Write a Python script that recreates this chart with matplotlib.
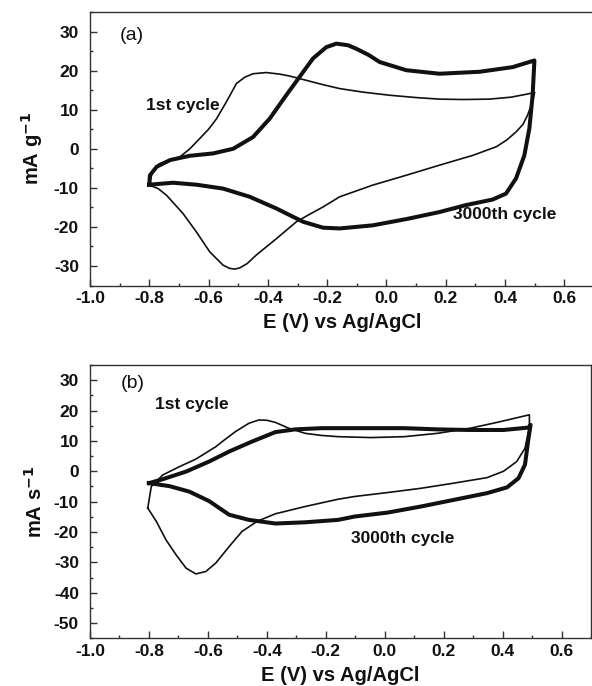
import matplotlib
matplotlib.use("Agg")
import matplotlib.pyplot as plt
from matplotlib.ticker import MultipleLocator

plt.rcParams['font.family'] = ['Liberation Sans', 'DejaVu Sans']

# ---------------- data ----------------
# Panel (a): 1st cycle (thin)
a1_x = [-0.800, -0.790, -0.765, -0.730, -0.697, -0.663, -0.630, -0.600, -0.573, -0.540,
        -0.506, -0.478, -0.450, -0.405, -0.360, -0.326, -0.270, -0.214, -0.158, -0.080,
        0.010, 0.100, 0.179, 0.260, 0.347, 0.420, 0.482, 0.500,
        0.490, 0.476, 0.460, 0.437, 0.405, 0.370, 0.291, 0.179, 0.066, -0.046,
        -0.158, -0.214, -0.260, -0.304, -0.371, -0.439, -0.470, -0.495, -0.512, -0.530,
        -0.551, -0.596, -0.641, -0.686, -0.742, -0.770, -0.800]
a1_y = [-9.3, -6.0, -3.8, -2.8, -2.1, 0.0, 2.6, 5.0, 7.7, 12.0,
        16.7, 18.3, 19.2, 19.5, 19.1, 18.6, 17.5, 16.4, 15.4, 14.5,
        13.7, 13.1, 12.7, 12.6, 12.7, 13.2, 14.1, 14.4,
        11.5, 8.6, 6.2, 4.3, 2.2, 0.5, -1.7, -4.2, -6.8, -9.3,
        -12.3, -14.9, -16.8, -18.7, -23.0, -27.2, -29.4, -30.5, -30.8, -30.6,
        -29.8, -26.4, -21.3, -16.6, -11.9, -10.2, -9.3]

# Panel (a): 3000th cycle (thick)
a2_x = [-0.800, -0.798, -0.775, -0.730, -0.663, -0.585, -0.517, -0.450, -0.394, -0.338,
        -0.293, -0.248, -0.203, -0.169, -0.130, -0.102, -0.060, -0.023, 0.067, 0.179,
        0.314, 0.426, 0.499,
        0.493, 0.482, 0.465, 0.437, 0.403, 0.358, 0.269, 0.179, 0.067, -0.046,
        -0.158, -0.214, -0.281, -0.371, -0.461, -0.551, -0.641, -0.720, -0.800]
a2_y = [-9.2, -6.8, -4.6, -2.9, -1.8, -1.2, 0.0, 3.0, 7.7, 13.7,
        18.4, 23.1, 26.0, 26.9, 26.5, 25.6, 24.0, 22.2, 20.1, 19.2,
        19.7, 20.9, 22.6,
        13.7, 5.2, -1.7, -7.6, -11.5, -13.0, -14.4, -16.2, -18.0, -19.6,
        -20.4, -20.2, -18.7, -15.3, -12.3, -10.2, -9.2, -8.7, -9.2]

# Panel (b): 1st cycle (thin)
b1_x = [-0.804, -0.792, -0.753, -0.697, -0.641, -0.573, -0.551, -0.506, -0.461, -0.427,
        -0.400, -0.371, -0.326, -0.270, -0.214, -0.158, -0.046, 0.067, 0.179, 0.291,
        0.381, 0.491,
        0.491, 0.488, 0.476, 0.448, 0.403, 0.347, 0.235, 0.123, 0.010, -0.102,
        -0.158, -0.270, -0.371, -0.433, -0.484, -0.528, -0.573, -0.607, -0.641, -0.674,
        -0.708, -0.742, -0.775, -0.804]
b1_y = [-12.1, -5.0, -1.2, 1.5, 4.0, 8.1, 9.8, 13.1, 15.8, 16.9,
        16.8, 16.1, 14.2, 12.5, 11.8, 11.4, 11.1, 11.4, 12.5, 14.2,
        16.1, 18.6,
        15.0, 13.1, 7.6, 3.2, 0.0, -2.1, -3.9, -5.6, -7.0, -8.3,
        -9.2, -11.6, -14.0, -16.5, -19.8, -24.8, -30.2, -33.0, -33.8, -31.9,
        -27.5, -22.6, -16.5, -12.1]

# Panel (b): 3000th cycle (thick)
b2_x = [-0.800, -0.753, -0.674, -0.596, -0.528, -0.450, -0.371, -0.304,
        -0.214, -0.046, 0.067, 0.179, 0.291, 0.403, 0.488, 0.495,
        0.488, 0.476, 0.454, 0.415, 0.347, 0.235, 0.123, 0.010, -0.102,
        -0.158, -0.270, -0.371, -0.461, -0.528, -0.596, -0.663, -0.730, -0.800]
b2_y = [-3.9, -2.6, -0.1, 3.2, 6.5, 9.8, 12.9, 13.8,
        14.2, 14.2, 14.2, 13.8, 13.6, 13.6, 14.4, 15.3,
        10.9, 2.2, -2.3, -5.3, -7.2, -9.4, -11.6, -13.6, -14.9,
        -16.0, -16.8, -17.2, -16.0, -14.3, -9.8, -6.7, -4.9, -3.9]

x_ticks = [-1.0, -0.8, -0.6, -0.4, -0.2, 0.0, 0.2, 0.4, 0.6]
x_tick_labels = ['-1.0', '-0.8', '-0.6', '-0.4', '-0.2', '0.0', '0.2', '0.4', '0.6']
ya_ticks = [-30, -20, -10, 0, 10, 20, 30]
yb_ticks = [-50, -40, -30, -20, -10, 0, 10, 20, 30]

xlabel_text = 'E (V) vs Ag/AgCl'
ya_label = r'mA g$^{\mathbf{-1}}$'
yb_label = r'mA s$^{\mathbf{-1}}$'

# ---------------- figure ----------------
W, H = 592, 686
fig = plt.figure(figsize=(W / 100, H / 100), dpi=100)

ax_a = fig.add_axes([90 / W, 1 - 285.5 / H, (594 - 90) / W, (285.5 - 12) / H])
ax_b = fig.add_axes([90 / W, 1 - 638.3 / H, (591 - 90) / W, (638.3 - 365) / H])

lc = '#111111'
thin_lw = 1.2
thick_lw = 2.9

def style(ax, yticks, ylim, ylabel):
    ax.set_xlim(-1.0, 0.7)
    ax.set_ylim(*ylim)
    ax.set_xticks(x_ticks)
    ax.set_xticklabels(x_tick_labels)
    ax.set_yticks(yticks)
    ax.set_yticklabels([str(v) for v in yticks])
    ax.xaxis.set_minor_locator(MultipleLocator(0.1))
    ax.yaxis.set_minor_locator(MultipleLocator(5))
    ax.tick_params(axis='both', which='both', direction='in', top=False, right=False,
                   color='#333333', width=1.0)
    ax.tick_params(axis='both', which='major', length=5)
    ax.tick_params(axis='both', which='minor', length=2.5)
    ax.tick_params(axis='x', which='major', pad=4)
    ax.tick_params(axis='y', which='major', pad=8)
    for lab in ax.get_xticklabels() + ax.get_yticklabels():
        lab.set_fontsize(12.5)
        lab.set_fontweight('bold')
        lab.set_color('#111111')
    for sp in ax.spines.values():
        sp.set_linewidth(1.0)
        sp.set_color('#333333')
    ax.set_xlabel(xlabel_text, fontsize=14.5, fontweight='bold', labelpad=5, color='#111111')
    ax.set_ylabel(ylabel, fontsize=14.5, fontweight='bold', labelpad=6, color='#111111')

# Panel (a)
ax_a.plot(a1_x, a1_y, color=lc, lw=thin_lw, solid_joinstyle='round')
ax_a.plot(a2_x, a2_y, color=lc, lw=thick_lw, solid_joinstyle='round')
style(ax_a, ya_ticks, (-35, 35), ya_label)
ax_a.text(-0.90, 28.9, '(a)', fontsize=14, va='center', ha='left', color='#111111')
ax_a.text(-0.811, 11.1, '1st cycle', fontsize=12.5, fontweight='bold', va='center', ha='left', color='#111111')
ax_a.text(0.223, -16.9, '3000th cycle', fontsize=12.5, fontweight='bold', va='center', ha='left', color='#111111')

# Panel (b)
ax_b.plot(b1_x, b1_y, color=lc, lw=thin_lw, solid_joinstyle='round')
ax_b.plot(b2_x, b2_y, color=lc, lw=thick_lw, solid_joinstyle='round')
style(ax_b, yb_ticks, (-55, 35), yb_label)
ax_b.text(-0.897, 29.0, '(b)', fontsize=14, va='center', ha='left', color='#111111')
ax_b.text(-0.781, 22.1, '1st cycle', fontsize=12.5, fontweight='bold', va='center', ha='left', color='#111111')
ax_b.text(-0.115, -22.2, '3000th cycle', fontsize=12.5, fontweight='bold', va='center', ha='left', color='#111111')

fig.savefig('out.png', dpi=100)
